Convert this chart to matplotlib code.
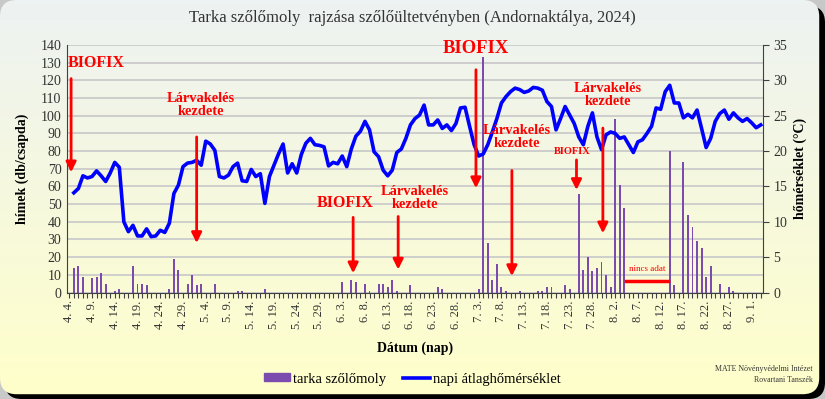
import numpy as np
import pandas as pd
import matplotlib
matplotlib.use("Agg")
from matplotlib import pyplot as plt
from matplotlib.patches import FancyBboxPatch, Patch
from matplotlib.lines import Line2D

plt.rcParams["font.family"] = ["Liberation Serif", "DejaVu Serif"]

nan = np.nan

# daily categories 2024.04.04 - 2024.09.03
dates = pd.date_range("2024-04-04", periods=153)

# trap catches (males / trap), nan = no data
moths = [
    0, 14, 15, 9, 0, 8, 9, 11, 5, 0,
    1, 2, 0, 0, 15, 5, 5, 4, 0, 0,
    0, 0, 2, 19, 13, 0, 5, 10, 4, 5,
    0, 0, 5, 0, 0, 0, 0, 1, 1, 0,
    0, 0, 0, 2, 0, 0, 0, 0, 0, 0,
    0, 0, 0, 0, 0, 0, 0, 0, 0, 0,
    6, 0, 7, 6, 0, 5, 1, 0, 5, 5,
    3, 7, 1, 0, 0, 4, 0, 0, 0, 0,
    0, 3, 2, 0, 0, 0, 0, 0, 0, 0,
    2, 133, 28, 7, 16, 3, 1, 0, 0, 1,
    0, 0, 0, 1, 1, 3, 3, 0, 0, 4,
    2, 0, 56, 13, 20, 12, 14, 17, 10, 3,
    98, 61, 48, nan, nan, nan, nan, nan, nan, nan,
    nan, nan, 80, 4, 0, 74, 44, 37, 29, 25,
    9, 15, 0, 5, 0, 3, 1, 0, 0, 0,
    0, 0, 0,
]

# daily mean temperature (°C)
temp = [
    nan, 14.1, 14.7, 16.5, 16.2, 16.4, 17.2, 16.5, 15.7, 16.9,
    18.4, 17.7, 10.0, 8.6, 9.5, 8.0, 8.0, 9.0, 7.9, 8.0,
    8.8, 8.5, 9.8, 14.0, 15.2, 17.8, 18.3, 18.4, 18.7, 18.0,
    21.4, 21.0, 20.1, 16.4, 16.2, 16.6, 17.8, 18.3, 15.8, 15.7,
    17.4, 16.4, 16.8, 12.6, 16.4, 18.0, 19.6, 21.0, 16.9, 18.2,
    16.9, 19.5, 21.1, 21.8, 20.9, 20.8, 20.6, 17.9, 18.4, 18.2,
    19.3, 17.8, 20.3, 22.1, 22.8, 24.2, 23.0, 19.9, 19.2, 17.3,
    16.5, 17.3, 19.8, 20.3, 21.8, 23.7, 24.6, 25.1, 26.5, 23.7,
    23.7, 24.4, 23.2, 23.7, 22.9, 23.9, 26.1, 26.2, 23.5, 20.9,
    19.3, 19.6, 20.9, 22.7, 24.6, 26.8, 27.7, 28.4, 28.9, 28.7,
    28.3, 28.5, 29.0, 28.9, 28.6, 27.0, 26.3, 23.0, 24.6, 26.3,
    25.1, 23.9, 22.0, 20.9, 23.5, 25.4, 22.0, 20.2, 22.3, 22.7,
    22.5, 21.8, 22.0, 20.9, 19.8, 21.3, 21.6, 22.5, 23.5, 26.1,
    25.9, 28.4, 29.3, 26.8, 26.8, 24.7, 25.2, 24.7, 25.8, 23.2,
    20.5, 21.8, 24.2, 25.3, 25.8, 24.5, 25.4, 24.7, 24.2, 24.6,
    24.0, 23.3, 23.7,
]

# event labels: text, x (day index), y (left axis units), font size
notes = [
    ("BIOFIX", 5.9, 129.6, 11.5),
    ("Lárvakelés\nkezdete", 29.0, 106.0, 10.4),
    ("BIOFIX", 60.6, 50.8, 11.5),
    ("Lárvakelés\nkezdete", 75.9, 53.5, 10.4),
    ("BIOFIX", 89.3, 138.0, 13.4),
    ("Lárvakelés\nkezdete", 98.3, 88.0, 10.4),
    ("BIOFIX", 110.5, 79.6, 7.5),
    ("Lárvakelés\nkezdete", 118.3, 111.7, 10.4),
]
# arrows: x, start y, end y (left axis units)
arrows = [
    (0.4, 121, 68),
    (28.0, 88, 28),
    (62.4, 42.5, 10.9),
    (72.3, 43, 13),
    (89.4, 126, 59),
    (97.3, 69, 9.3),
    (111.5, 75, 58),
    (117.3, 93, 33.5),
]

x = np.arange(len(dates))
W, H = 825, 399

fig = plt.figure(figsize=(8.25, 3.99), dpi=100, facecolor="#c8c8c8")

# background panel with gradient and shadow
bg = fig.add_axes([0, 0, 1, 1], zorder=-10)
bg.set_xlim(0, 1)
bg.set_ylim(0, 1)
bg.axis("off")
shadow = FancyBboxPatch((0.006, 0.0), 0.994, 0.985, boxstyle="round,pad=0,rounding_size=0.02",
                        mutation_aspect=W / H, fc="black", ec="none", zorder=-1)
bg.add_patch(shadow)
panel = FancyBboxPatch((0.0, 0.012), 0.993, 0.988, boxstyle="round,pad=0,rounding_size=0.02",
                       mutation_aspect=W / H, fc="none", ec="none", zorder=-1)
bg.add_patch(panel)
top_c = np.array([0.93, 0.95, 0.95])
bot_c = np.array([1.0, 1.0, 0.79])
t = np.linspace(0, 1, 256)[:, None, None]
grad = top_c + (bot_c - top_c) * t
im = bg.imshow(grad, extent=[0, 1, 0, 1], aspect="auto", origin="upper", zorder=0)
im.set_clip_path(panel)

ax = fig.add_axes([67 / W, 1 - 292.5 / H, 696 / W, 247.5 / H])
ax.set_facecolor("none")
ax.bar(x, moths, width=0.42, color="#7B4BAE", zorder=2)
ax.set_xlim(-0.5, len(dates) - 0.5)
ax.set_ylim(0, 140)
ax.set_yticks(range(0, 141, 10))
ax.yaxis.grid(True, color="#cbcbcb", lw=1.3)
ax.set_axisbelow(True)
ax.set_xticks(x)
ax.set_xticklabels([f"{d.month}. {d.day}." if i % 5 == 0 else "" for i, d in enumerate(dates)],
                   rotation=90, fontsize=9, color="#333333")
ax.tick_params(axis="x", length=3.5, width=0.8, color="#404040", pad=2)
ax.tick_params(axis="y", length=0, labelsize=10, pad=4, labelcolor="#333333")
for s in ["top", "right"]:
    ax.spines[s].set_visible(False)
for s in ["left", "bottom"]:
    ax.spines[s].set_color("#404040")

ax2 = ax.twinx()
ax2.plot(x, temp, color="#0000FF", lw=2.6, zorder=3)
ax2.set_ylim(0, 35)
ax2.set_yticks(range(0, 36, 5))
ax2.tick_params(axis="y", length=4, labelsize=10, color="#404040", labelcolor="#333333")
for s in ["top", "left", "bottom"]:
    ax2.spines[s].set_visible(False)
ax2.spines["right"].set_color("#404040")

for txt, tx, ty, fs in notes:
    ax2.text(tx, ty, txt, transform=ax.transData, color="#FF0000", fontsize=fs,
             fontweight="bold", ha="center", va="center", linespacing=1.05, zorder=5)
for ax_x, y0, y1 in arrows:
    ax2.annotate("", xy=(ax_x, y1), xytext=(ax_x, y0), xycoords=ax.transData,
                 textcoords=ax.transData,
                 arrowprops=dict(arrowstyle="-|>,head_width=0.3,head_length=0.6",
                                 color="#FF0000", lw=2, shrinkA=0, shrinkB=0), zorder=5)
ax2.text(127, 13.1, "nincs adat", transform=ax.transData, color="#FF0000", fontsize=6.5,
         ha="center", va="center", zorder=5)
ax2.plot([122.4, 131.6], [6.5 / 4, 6.5 / 4], color="#FF0000", lw=2.5, zorder=5)

fig.text(0.5, 1 - 18 / H, "Tarka szőlőmoly  rajzása szőlőültetvényben (Andornaktálya, 2024)",
         ha="center", va="center", fontsize=12, color="#333333")
fig.text(22 / W, 1 - 168.5 / H, "hímek (db/csapda)", rotation=90, ha="center", va="center",
         fontsize=10, fontweight="bold")
fig.text(800 / W, 1 - 168 / H, "hőmérséklet (°C)", rotation=90, ha="center", va="center",
         fontsize=10, fontweight="bold")
fig.text(415 / W, 1 - 348 / H, "Dátum (nap)", ha="center", va="center",
         fontsize=10, fontweight="bold")

handles = [Patch(color="#7B4BAE"), Line2D([], [], color="#0000FF", lw=2.6)]
fig.legend(handles, ["tarka szőlőmoly", "napi átlaghőmérséklet"], loc="center",
           bbox_to_anchor=(412 / W, 1 - 379 / H), ncol=2, frameon=False, fontsize=10.5,
           handlelength=1.8, handleheight=0.5, handletextpad=0.2, columnspacing=1.2)

fig.text(813 / W, 1 - 369 / H, "MATE Növényvédelmi Intézet", ha="right", va="center",
         fontsize=5.7, color="#333333")
fig.text(813 / W, 1 - 380 / H, "Rovartani Tanszék", ha="right", va="center",
         fontsize=5.7, color="#333333")

fig.savefig("out.png", dpi=100, facecolor=fig.get_facecolor())
